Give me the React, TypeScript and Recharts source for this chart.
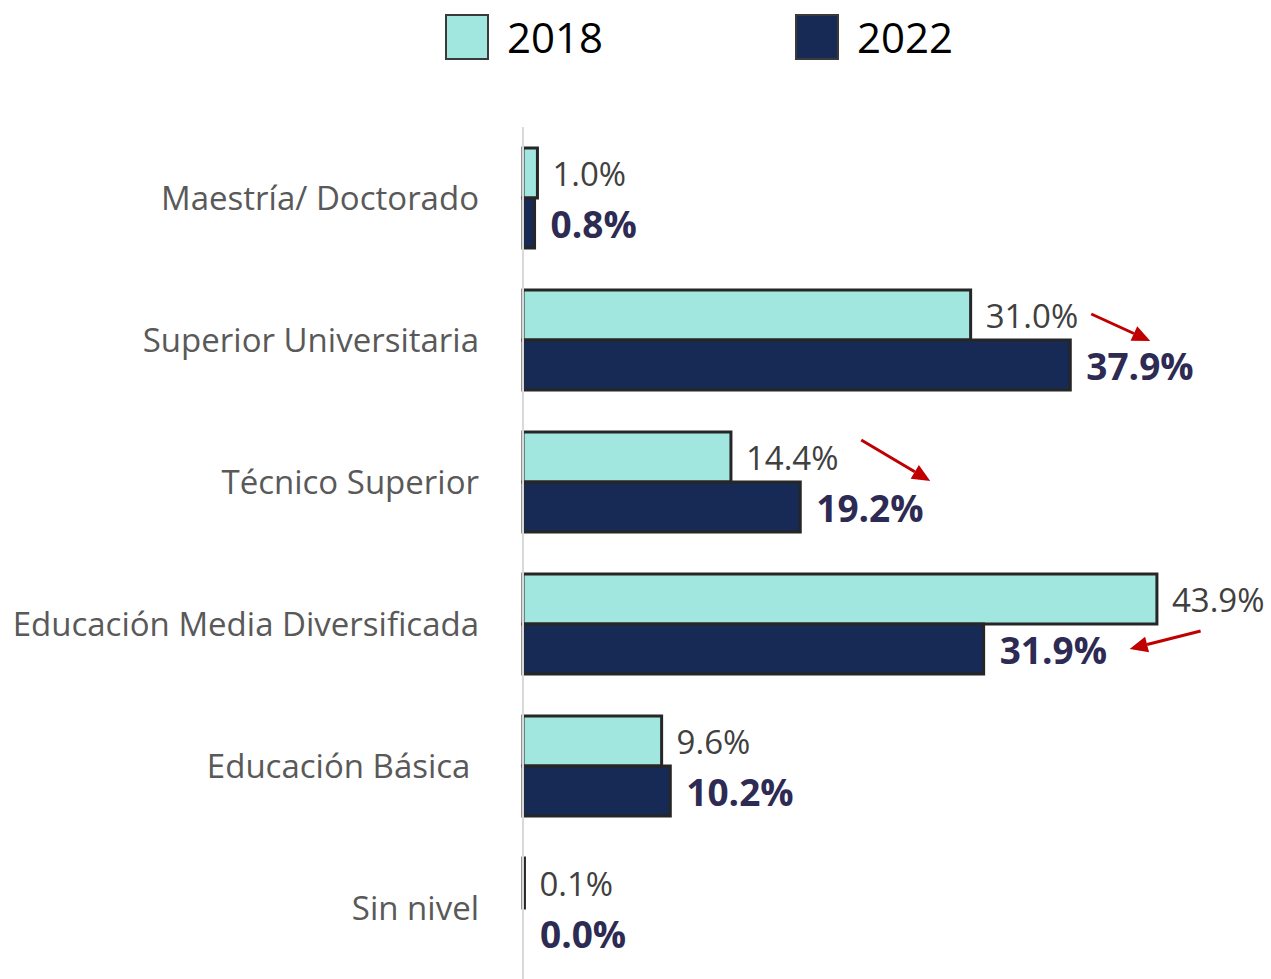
import { BarChart, Bar, XAxis, YAxis, LabelList, Cell } from "recharts";

const categories = [
  "Maestría/ Doctorado",
  "Superior Universitaria",
  "Técnico Superior",
  "Educación Media Diversificada",
  "Educación Básica ",
  "Sin nivel",
];
const values2018 = [1.0, 31.0, 14.4, 43.9, 9.6, 0.1];
const values2022 = [0.8, 37.9, 19.2, 31.9, 10.2, 0.0];

const series = [
  { key: "y2018", name: "2018", fill: "#A2E6E0" },
  { key: "y2022", name: "2022", fill: "#172A55" },
];

// red annotation arrows, relative to the end/top of the 2022 bar
const arrows: Record<string, { x1: number; y1: number; x2: number; y2: number }> = {
  "Superior Universitaria": { x1: 21, y1: -26, x2: 80, y2: 1 },
  "Técnico Superior": { x1: 61, y1: -42, x2: 130, y2: -1 },
  "Educación Media Diversificada": { x1: 217, y1: 7, x2: 146, y2: 25 },
};

const data = categories.map((name, i) => ({
  name,
  y2018: values2018[i],
  y2022: values2022[i],
}));

const FONT = "'Open Sans', sans-serif";
const fmt = (v: number) => `${v.toFixed(1)}%`;

function Arrow({ x1, y1, x2, y2 }: { x1: number; y1: number; x2: number; y2: number }) {
  const ang = Math.atan2(y2 - y1, x2 - x1);
  const len = 18;
  const half = 8;
  const bx = x2 - len * Math.cos(ang);
  const by = y2 - len * Math.sin(ang);
  const px = -Math.sin(ang) * half;
  const py = Math.cos(ang) * half;
  return (
    <g>
      <line x1={x1} y1={y1} x2={bx} y2={by} stroke="#C00000" strokeWidth={3} />
      <polygon
        points={`${x2},${y2} ${bx + px},${by + py} ${bx - px},${by - py}`}
        fill="#C00000"
      />
    </g>
  );
}

function Label2018(props: any) {
  const { x, y, width, height, value } = props;
  return (
    <text
      x={x + width + 15}
      y={y + height / 2}
      dominantBaseline="central"
      fontFamily={FONT}
      fontSize={33}
      fill="#404040"
    >
      {fmt(value)}
    </text>
  );
}

function Label2022(props: any) {
  const { x, y, width, height, value, index } = props;
  const end = x + width;
  const a = arrows[categories[index]];
  return (
    <g>
      <text
        x={end + 16}
        y={y + height / 2}
        dominantBaseline="central"
        fontFamily={FONT}
        fontSize={37}
        fontWeight={700}
        fill="#2D2B53"
      >
        {fmt(value)}
      </text>
      {a && <Arrow x1={end + a.x1} y1={y + a.y1} x2={end + a.x2} y2={y + a.y2} />}
    </g>
  );
}

function CategoryTick(props: any) {
  const { x, y, payload } = props;
  return (
    <text
      x={x - 36}
      y={y - 1}
      textAnchor="end"
      dominantBaseline="central"
      fontFamily={FONT}
      fontSize={33}
      fill="#595959"
      style={{ whiteSpace: "pre" }}
    >
      {payload.value}
    </text>
  );
}

export default function App() {
  return (
    <div style={{ position: "absolute", left: 0, top: 0, width: 1271, height: 979, background: "#fff" }}>
      <div
        style={{
          position: "absolute",
          top: 14,
          left: 445,
          display: "flex",
          fontFamily: FONT,
          fontSize: 42,
          color: "#000",
          zIndex: 2,
        }}
      >
        {series.map((s, i) => (
          <div
            key={s.key}
            style={{ display: "flex", alignItems: "center", width: i === 0 ? 350 : "auto" }}
          >
            <span
              style={{
                display: "inline-block",
                width: 40,
                height: 42,
                background: s.fill,
                border: "2px solid #3A3A3A",
                marginRight: 18,
              }}
            />
            <span style={{ lineHeight: "46px" }}>{s.name}</span>
          </div>
        ))}
      </div>
      <BarChart
        layout="vertical"
        width={1271}
        height={979}
        data={data}
        margin={{ top: 127, right: 26, bottom: 0, left: 0 }}
        barGap={0}
      >
        <XAxis type="number" domain={[0, 50]} hide />
        <YAxis
          type="category"
          dataKey="name"
          width={523}
          axisLine={{ stroke: "#D9D9D9", strokeWidth: 2 }}
          tickLine={false}
          tick={<CategoryTick />}
          interval={0}
        />
        <Bar
          dataKey="y2018"
          name="2018"
          fill={series[0].fill}
          stroke="#262626"
          strokeWidth={3}
          barSize={50}
          isAnimationActive={false}
        >
          <LabelList dataKey="y2018" content={<Label2018 />} />
        </Bar>
        <Bar
          dataKey="y2022"
          name="2022"
          fill={series[1].fill}
          stroke="#262626"
          strokeWidth={3}
          barSize={50}
          minPointSize={1}
          isAnimationActive={false}
        >
          {values2022.map((v, i) => (
            <Cell
              key={i}
              fill={v === 0 ? "none" : series[1].fill}
              stroke={v === 0 ? "none" : "#262626"}
            />
          ))}
          <LabelList dataKey="y2022" content={<Label2022 />} />
        </Bar>
      </BarChart>
    </div>
  );
}
